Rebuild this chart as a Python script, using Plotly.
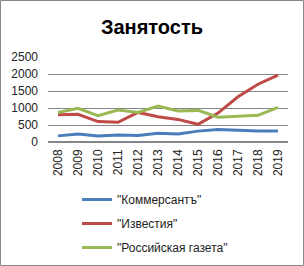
import plotly.graph_objects as go

years = [str(y) for y in range(2008, 2020)]
kommersant = [180, 235, 176, 205, 190, 255, 235, 320, 370, 345, 320, 320]
izvestia = [800, 815, 600, 580, 870, 745, 665, 520, 850, 1330, 1700, 1970]
rg = [870, 990, 775, 940, 870, 1060, 910, 930, 730, 755, 785, 1020]
names = ['"Коммерсантъ"', '"Известия"', '"Российская газета"']
colors = ["#4A7EBB", "#BE4B48", "#98B954"]
y_ticks = [0, 500, 1000, 1500, 2000, 2500]

fig = go.Figure()
for i, (vals, nm, c) in enumerate(zip([kommersant, izvestia, rg], names, colors)):
    fig.add_trace(go.Scatter(x=years, y=vals, name=nm, mode="lines",
                             line=dict(color=c, width=3), legendgroup=f"g{i}"))

L, R, T, B = 48, 16, 57, 124
W, H = 304, 266
pw, ph = W - L - R, H - T - B

fig.update_layout(
    width=W, height=H,
    margin=dict(l=L, r=R, t=T, b=B, autoexpand=False),
    paper_bgcolor="white", plot_bgcolor="white",
    font=dict(family="Liberation Sans, Arial, sans-serif", size=12, color="#222"),
    title=dict(text="<b>Занятость</b>", x=0.5, xanchor="center", y=1 - 27 / H,
               yanchor="middle", font=dict(size=20, color="#000")),
    xaxis=dict(type="category", range=[-0.5, len(years) - 0.5], tickangle=-90,
               showgrid=False, showline=False, ticks="", ticklabelstandoff=4,
               tickfont=dict(size=12)),
    yaxis=dict(range=[0, 2500], tickvals=y_ticks, showgrid=True, gridcolor="#868686",
               gridwidth=1, zeroline=True, zerolinecolor="#868686", ticks="",
               ticklabelstandoff=9, tickfont=dict(size=12)),
    showlegend=True,
    legend=dict(orientation="v", x=(77 - L) / pw, xanchor="left",
                y=(H - B - 185) / ph, yanchor="top", traceorder="grouped",
                tracegroupgap=5, font=dict(size=12), bgcolor="rgba(0,0,0,0)"),
    shapes=[dict(type="rect", xref="paper", yref="paper",
                 x0=(-L + 0.5) / pw, x1=1 + (R - 0.5) / pw,
                 y0=(-B + 0.5) / ph, y1=1 + (T - 0.5) / ph,
                 line=dict(color="#868686", width=1))],
)

fig.write_html("out.html")
